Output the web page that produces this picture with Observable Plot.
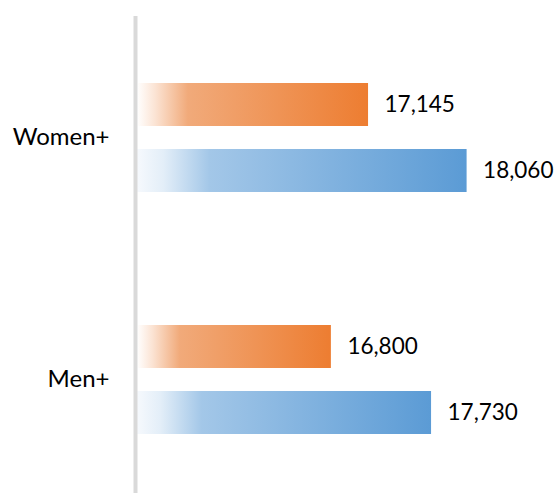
<!DOCTYPE html>
<html>
<head>
<meta charset="utf-8">
<script src="https://cdn.jsdelivr.net/npm/d3@7"></script>
<script src="https://cdn.jsdelivr.net/npm/@observablehq/plot@0.6"></script>
<style>
  html, body { margin: 0; padding: 0; background: #fff; }
</style>
</head>
<body>
<div id="chart"></div>
<script>
const categories = ["Women+", "Men+"];
const seriesNames = ["Series 1", "Series 2"];
const series1 = [17145, 16800];
const series2 = [18060, 17730];

const rows = [];
categories.forEach((c, i) => {
  rows.push({category: c, series: seriesNames[0], value: series1[i]});
  rows.push({category: c, series: seriesNames[1], value: series2[i]});
});

const defs = () => {
  const svg = d3.create("svg:defs");
  const mk = (id, stops) => {
    const g = svg.append("linearGradient").attr("id", id)
      .attr("x1", 0).attr("x2", 1).attr("y1", 0).attr("y2", 0);
    stops.forEach(([o, c]) => g.append("stop").attr("offset", o).attr("stop-color", c));
  };
  mk("gradOrange", [[0, "#ffffff"], [0.08, "#fbe3d3"], [0.22, "#f1aa7a"], [1, "#ed7d31"]]);
  mk("gradBlue", [[0, "#f6f9fd"], [0.08, "#e3eef8"], [0.22, "#a3c7e8"], [1, "#5b9bd5"]]);
  return svg.node();
};

const fmt = d3.format(",");

const chart = Plot.plot({
  width: 556,
  height: 493,
  marginLeft: 137,
  marginRight: 0,
  marginTop: 15,
  marginBottom: -7,
  style: {fontFamily: "Lato", fontSize: "22px", color: "#000", background: "#fff"},
  x: {domain: [15000, 18890], axis: null},
  y: {domain: seriesNames, axis: null, paddingInner: 0.35, paddingOuter: 1.0},
  fy: {domain: categories, padding: 0, label: null},
  color: {domain: seriesNames, range: ["url(#gradOrange)", "url(#gradBlue)"]},
  marks: [
    defs,
    Plot.barX(rows, {x1: 15000, x2: "value", y: "series", fy: "category", fill: "series"}),
    Plot.text(rows, {x: "value", y: "series", fy: "category", text: d => fmt(d.value),
      textAnchor: "start", dx: 16, fontSize: 22.5, fill: "#000"}),
    Plot.ruleX([15000], {dx: -2, stroke: "#d9d9d9", strokeWidth: 4}),
    Plot.axisFy({anchor: "left", tickSize: 0, tickPadding: 28, label: null, fontSize: 24})
  ]
});

document.getElementById("chart").appendChild(chart);
</script>
</body>
</html>
